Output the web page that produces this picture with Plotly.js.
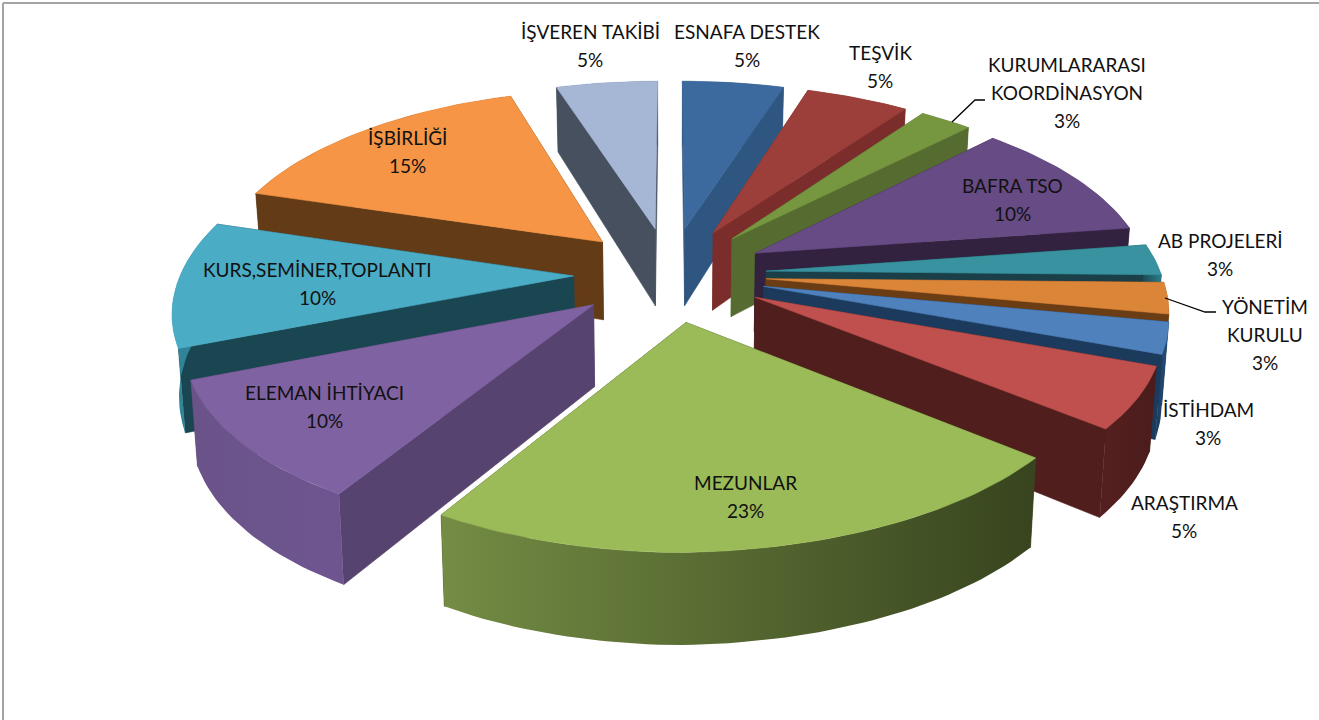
<!DOCTYPE html>
<html><head><meta charset="utf-8">
<script src="https://cdn.plot.ly/plotly-3.0.1.min.js"></script>
<style>html,body{margin:0;padding:0;background:#fff}#c{width:1319px;height:720px}</style>
</head><body><div id="c"></div>
<script>
// DATA
const categories = ["ESNAFA DESTEK","TEŞVİK","KURUMLARARASI\nKOORDİNASYON","BAFRA TSO","AB PROJELERİ","YÖNETİM\nKURULU","İSTİHDAM","ARAŞTIRMA","MEZUNLAR","ELEMAN İHTİYACI","KURS,SEMİNER,TOPLANTI","İŞBİRLİĞİ","İŞVEREN TAKİBİ"];
const counts = [2,2,1,4,1,1,1,2,9,4,4,6,2];

// STYLE
const topColors  = ["#3D6A9E","#9C3F3B","#76963F","#674B85","#38929F","#DB8539","#4F81BD","#C0504D","#9BBB59","#7F62A1","#4BACC6","#F59545","#A6B7D6"];
const wallColors = ["#2F5680","#7A2D2B","#556B2F","#32213F","#1A3F48","#6B3D14","#1B3A5C","#511E1E","#3C4A20","#57436F","#1A4652","#633B16","#46505F"];
const rimLeft    = ["#2F5680","#7A2D2B","#556B2F","#32213F","#1A3F48","#6B3D14","#1B3A5C","#551F1F","#748C44","#6A5389","#2F8497","#633B16","#46505F"];
const rimRight   = ["#2F5680","#7A2D2B","#556B2F","#32213F","#2A7C8C","#6B3D14","#24507E","#4B1C1C","#37441E","#6E5590","#2F8497","#633B16","#46505F"];
const labelCenters = [[747,31],[880,52],[1067,64],[1012,185],[1220,240],[1265,306],[1208,409],[1184,502],[745,482],[324,392],[317,269],[407,137],[590,31]];
const linePitch = 28, fontSize = 19;

// PROJECTION
const cx=670, y0=274, S=393, A=194, T=80, explode=0.245, bottomShrink=0.986;
const wx=Y=>1+0.165*Y+0.025*Y*Y, wy=Y=>1+0.155*Y+0.037*Y*Y;
function project(X,Y,low){
  const skew=-4*Math.max(0,X)*(1-Y)*(Y<1?1:0);
  return [cx+S*X/wx(Y)*(low?bottomShrink:1), y0-A*Y/wy(Y)+(low?T/wy(Y):0)+skew];
}
const total=counts.reduce((a,b)=>a+b,0);
let acc=0;
const slices=counts.map((v,i)=>{
  const a0=acc/total*2*Math.PI; acc+=v; const a1=acc/total*2*Math.PI; const m=(a0+a1)/2;
  return {i,a0,a1,ox:explode*Math.sin(m),oy:explode*Math.cos(m),mid:m};
});
function face(pts,color,grad){
  const t={type:'scatter',mode:'lines',x:pts.map(p=>p[0]),y:pts.map(p=>p[1]),fill:'toself',fillcolor:color,
    line:{color:color,width:0.6},hoverinfo:'skip',showlegend:false};
  if(grad){t.fillgradient={type:'horizontal',colorscale:[[0,grad[0]],[1,grad[1]]]};t.line={color:'rgba(0,0,0,0)',width:0};}
  return t;
}
const traces=[];
[...slices].sort((a,b)=>(b.oy)-(a.oy)).forEach(s=>{
  const n=Math.max(8,Math.ceil((s.a1-s.a0)*40));
  const topArc=[],lowArc=[];
  for(let k=0;k<=n;k++){
    const a=s.a0+(s.a1-s.a0)*k/n, X=s.ox+Math.sin(a), Y=s.oy+Math.cos(a);
    topArc.push(project(X,Y,false)); lowArc.push(project(X,Y,true));
  }
  const apexT=project(s.ox,s.oy,false), apexL=project(s.ox,s.oy,true);
  const w=wallColors[s.i];
  traces.push(face([apexT,topArc[0],lowArc[0],apexL,apexT],w));
  traces.push(face([apexT,topArc[n],lowArc[n],apexL,apexT],w));
  traces.push(face([...topArc,...[...lowArc].reverse(),topArc[0]],rimLeft[s.i],[rimLeft[s.i],rimRight[s.i]]));
  traces.push(face([apexT,...topArc,apexT],topColors[s.i]));
});

const pct=counts.map(v=>Math.round(100*v/total)+'%');
const annotations=[];
categories.forEach((c,i)=>{
  const lines=c.split('\n').concat([pct[i]]);
  lines.forEach((t,j)=>annotations.push({x:labelCenters[i][0],y:labelCenters[i][1]+j*linePitch,text:t,xref:'x',yref:'y',
    showarrow:false,xanchor:'center',yanchor:'middle',font:{family:'Lato, "Open Sans", sans-serif',size:fontSize,color:'#111'}}));
});
const shapes=[
  {type:'path',path:'M952,122 L975,100 L985,100',line:{color:'#000',width:1.3},xref:'x',yref:'y'},
  {type:'path',path:'M1165,298 L1205,312 L1216,312',line:{color:'#000',width:1.3},xref:'x',yref:'y'},
  {type:'line',x0:3,x1:1319,y0:3,y1:3,line:{color:'#a3a3a3',width:2},xref:'x',yref:'y'},
  {type:'line',x0:3,x1:3,y0:3,y1:720,line:{color:'#a3a3a3',width:2},xref:'x',yref:'y'}
];
Plotly.newPlot('c',traces,{
  width:1319,height:720,margin:{l:0,r:0,t:0,b:0},paper_bgcolor:'#fff',plot_bgcolor:'#fff',showlegend:false,
  xaxis:{range:[0,1319],visible:false,fixedrange:true},
  yaxis:{range:[720,0],visible:false,fixedrange:true},
  annotations,shapes
},{displayModeBar:false,staticPlot:true});
</script></body></html>
